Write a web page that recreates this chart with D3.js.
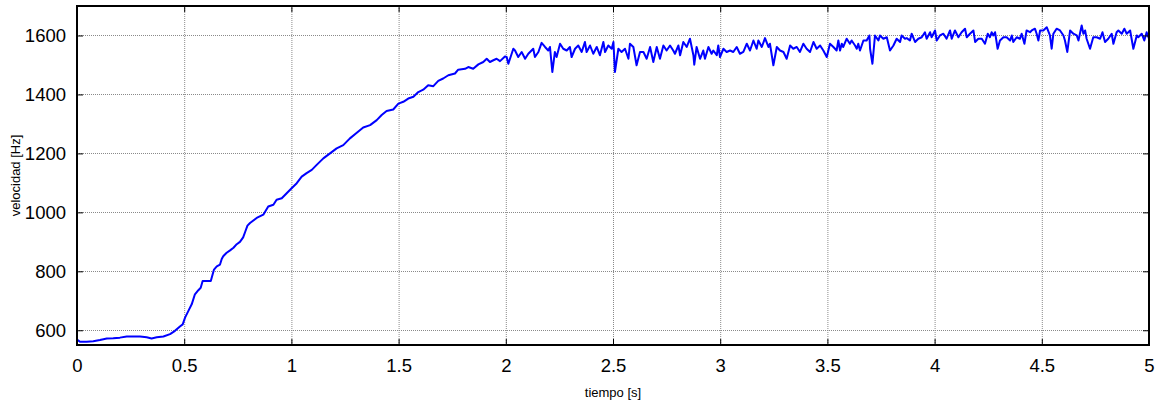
<!DOCTYPE html>
<html><head><meta charset="utf-8">
<script src="https://cdn.jsdelivr.net/npm/d3@7"></script>
<style>
body{margin:0;background:#fff;}
svg{display:block;font-family:"Liberation Sans",Arial,sans-serif;}
</style></head>
<body><svg id="c" width="1159" height="412"></svg>
<script>
// ---- data ----
const xTicks = [0,0.5,1,1.5,2,2.5,3,3.5,4,4.5,5];
const xTickLabels = ["0","0.5","1","1.5","2","2.5","3","3.5","4","4.5","5"];
const yTicks = [600,800,1000,1200,1400,1600];
const yTickLabels = ["600","800","1000","1200","1400","1600"];
const xTitle = "tiempo [s]";
const yTitle = "velocidad [Hz]";

// start-up ramp (0 - 2 s)
const rampTime = [0,0.005,0.014,0.045,0.076,0.107,0.139,0.169,0.2,0.232,0.263,0.294,0.325,0.348,0.372,0.403,0.434,0.457,0.48,0.493,0.504,0.519,0.535,0.55,0.566,0.577,0.586,0.605,0.624,0.639,0.652,0.667,0.675,0.682,0.698,0.714,0.73,0.745,0.76,0.775,0.785,0.795,0.807,0.838,0.869,0.892,0.916,0.931,0.955,0.978,1.001,1.025,1.048,1.071,1.095,1.118,1.149,1.18,1.211,1.242,1.273,1.305,1.335,1.367,1.398,1.421,1.444,1.475,1.499,1.522,1.545,1.569,1.592,1.615,1.638,1.662,1.685,1.708,1.732,1.763,1.778,1.81,1.825,1.848,1.872,1.895,1.911,1.926,1.942,1.957,1.973,1.996];
const rampValue = [562,566,561,561,563,567,572,573,575,579,579,579,576,572,576,579,587,598,613,620,643,665,688,722,736,744,767,767,767,806,817,823,842,851,863,871,880,892,900,915,935,955,964,981,992,1020,1026,1043,1048,1065,1082,1099,1121,1133,1144,1161,1183,1200,1217,1228,1251,1270,1288,1296,1313,1330,1344,1349,1369,1375,1386,1392,1408,1416,1431,1428,1446,1454,1465,1471,1484,1487,1493,1487,1502,1510,1521,1510,1516,1521,1513,1529];

// steady state with ripple (2 - 5 s)
const steadyTime = [2.004,2.012,2.035,2.043,2.058,2.074,2.09,2.105,2.128,2.136,2.152,2.167,2.183,2.198,2.206,2.217,2.229,2.237,2.253,2.268,2.284,2.299,2.307,2.323,2.338,2.354,2.369,2.377,2.393,2.408,2.424,2.439,2.455,2.463,2.478,2.494,2.502,2.509,2.525,2.54,2.556,2.572,2.579,2.595,2.61,2.626,2.642,2.657,2.673,2.688,2.704,2.719,2.735,
2.75,2.766,2.781,2.789,2.805,2.813,2.828,2.844,2.859,2.875,2.879,2.89,2.906,2.921,2.929,2.945,2.96,2.968,2.984,2.991,2.999,3.015,3.03,3.046,3.061,3.077,3.092,3.108,3.124,3.139,3.155,3.17,3.178,3.194,3.209,3.225,3.232,3.248,3.264,3.279,3.295,3.31,3.326,3.341,3.357,3.372,3.388,3.403,3.419,3.435,3.45,3.466,3.481,
3.497,3.512,3.528,3.543,3.551,3.559,3.567,3.574,3.59,3.605,3.613,3.629,3.637,3.644,3.652,3.668,3.683,3.696,3.699,3.71,3.722,3.738,3.745,3.761,3.777,3.792,3.808,3.823,3.839,3.846,3.862,3.87,3.885,3.893,3.909,3.924,3.94,3.955,3.963,3.979,3.986,4.002,4.01,4.025,4.041,4.056,4.072,4.08,4.095,4.111,4.126,4.142,4.15,4.165,4.181,4.189,4.204,4.22,4.235,
4.248,4.258,4.266,4.274,4.282,4.294,4.305,4.321,4.336,4.352,4.36,4.367,4.383,4.398,4.406,4.419,4.429,4.445,4.453,4.468,4.476,4.484,4.492,4.507,4.523,4.538,4.546,4.554,4.569,4.585,4.601,4.608,4.619,4.632,4.647,4.663,4.671,4.686,4.694,4.702,4.709,4.725,4.74,4.756,4.772,4.783,4.795,4.81,4.826,4.834,4.849,4.857,4.873,4.885,4.896,4.912,4.927,4.943,4.95,4.966,4.978,4.989,5.0];
const steadyValue = [1527,1504,1555,1549,1527,1544,1521,1538,1555,1527,1544,1575,1561,1549,1561,1476,1544,1527,1572,1555,1549,1561,1527,1555,1566,1544,1578,1544,1566,1538,1561,1533,1578,1544,1566,1555,1578,1476,1555,1544,1555,1521,1572,1561,1499,1544,1544,1521,1561,1510,1561,1521,1566,
1549,1566,1549,1538,1566,1533,1578,1561,1589,1533,1501,1561,1521,1549,1521,1561,1538,1549,1533,1566,1527,1555,1544,1549,1544,1561,1538,1544,1572,1549,1583,1555,1583,1561,1591,1561,1572,1499,1561,1549,1544,1521,1566,1555,1561,1544,1572,1555,1544,1578,1555,1566,1549,
1527,1572,1561,1549,1583,1549,1572,1561,1589,1572,1583,1566,1555,1572,1549,1583,1583,1600,1555,1504,1600,1583,1600,1589,1594,1549,1566,1589,1578,1600,1589,1591,1583,1606,1578,1589,1594,1611,1589,1611,1594,1617,1583,1600,1606,1589,1617,1589,1617,1594,1611,1623,1594,1606,1617,1578,1589,1589,1572,
1606,1594,1611,1600,1611,1555,1583,1594,1594,1583,1600,1578,1594,1589,1606,1572,1617,1611,1617,1623,1606,1583,1617,1617,1628,1600,1555,1606,1623,1617,1600,1583,1544,1617,1606,1600,1583,1634,1606,1617,1589,1555,1594,1594,1589,1611,1578,1589,1606,1572,1611,1617,1606,1623,1606,1617,1555,1600,1594,1606,1583,1611,1589];

// ---- layout ----
const L = 77, R = 1149, T = 6, B = 345;
const svg = d3.select("#c");
const x = d3.scaleLinear().domain([0,5]).range([L,R]);
const y = d3.scaleLinear().domain([550,1700]).range([B,T]);

const pts = rampTime.map((t,i)=>[t,rampValue[i]])
  .concat(steadyTime.map((t,i)=>[t,steadyValue[i]]));

// grid
const grid = svg.append("g");
grid.selectAll("line.gx").data(xTicks.filter(d=>d>0&&d<5)).join("line")
  .attr("x1",d=>x(d)+0.5).attr("x2",d=>x(d)+0.5).attr("y1",T).attr("y2",B)
  .attr("stroke","#8a8a8a").attr("stroke-width",1).attr("stroke-dasharray","1,1");
grid.selectAll("line.gy").data(yTicks).join("line")
  .attr("y1",d=>Math.round(y(d))+0.5).attr("y2",d=>Math.round(y(d))+0.5).attr("x1",L).attr("x2",R)
  .attr("stroke","#8a8a8a").attr("stroke-width",1).attr("stroke-dasharray","1,1");

// data line
svg.append("path").datum(pts)
  .attr("d", d3.line().x(d=>x(d[0])).y(d=>y(d[1])))
  .attr("fill","none").attr("stroke","#0000ff").attr("stroke-width",2)
  .attr("stroke-linejoin","round");

// axes (MATLAB style, ticks inward on all four sides)
const tl = 6;
const fs = "18.5px";
const ax = svg.append("g").attr("transform",`translate(0,${B})`)
  .call(d3.axisBottom(x).tickValues(xTicks).tickFormat((d,i)=>xTickLabels[i]).tickSizeInner(-tl).tickSizeOuter(0).tickPadding(14));
const axT = svg.append("g").attr("transform",`translate(0,${T})`)
  .call(d3.axisTop(x).tickValues(xTicks).tickFormat("").tickSizeInner(-tl).tickSizeOuter(0));
const ay = svg.append("g").attr("transform",`translate(${L},0)`)
  .call(d3.axisLeft(y).tickValues(yTicks).tickFormat((d,i)=>yTickLabels[i]).tickSizeInner(-tl).tickSizeOuter(0).tickPadding(11));
const ayR = svg.append("g").attr("transform",`translate(${R},0)`)
  .call(d3.axisRight(y).tickValues(yTicks).tickFormat("").tickSizeInner(-tl).tickSizeOuter(0));
[ax,axT,ay,ayR].forEach(g=>{
  g.select(".domain").remove();
  g.selectAll(".tick line").attr("stroke","#000").attr("stroke-width",1);
  g.selectAll("text").attr("fill","#000").style("font-size",fs).style("font-family","'Liberation Sans',Arial,sans-serif");
});

// box
svg.append("rect").attr("x",L).attr("y",T).attr("width",R-L).attr("height",B-T)
  .attr("fill","none").attr("stroke","#000").attr("stroke-width",2);

// titles
svg.append("text").attr("x",(L+R)/2).attr("y",397).attr("text-anchor","middle")
  .style("font-size","13px").text(xTitle);
svg.append("text").attr("transform",`translate(20,${(T+B)/2}) rotate(-90)`).attr("text-anchor","middle")
  .style("font-size","13px").text(yTitle);
</script></body></html>
